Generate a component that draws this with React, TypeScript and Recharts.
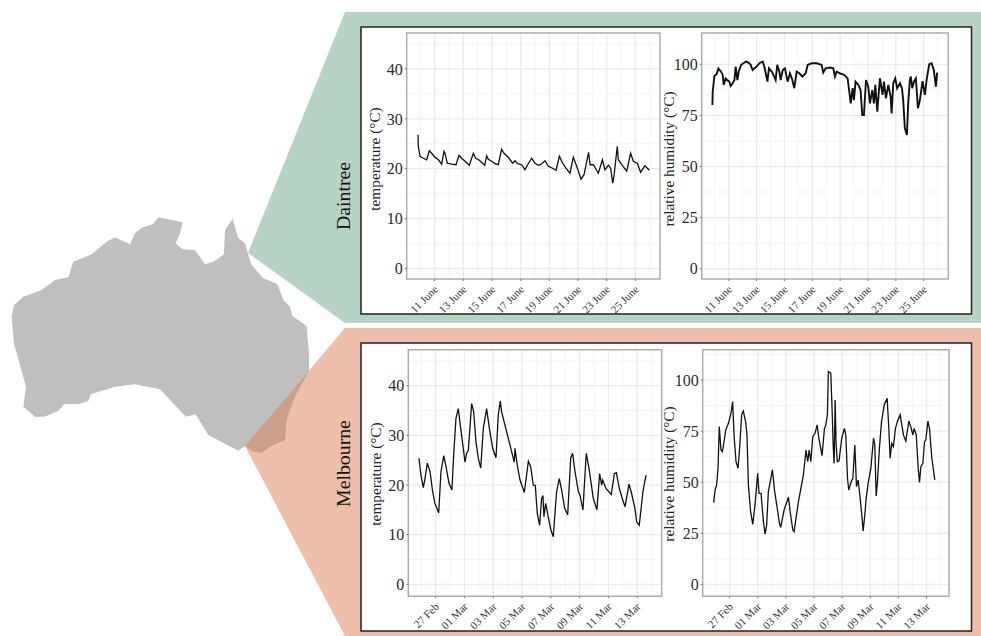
import React from 'react';
import { LineChart, Line, XAxis, YAxis, CartesianGrid, ReferenceArea, Label } from 'recharts';

const FONT = '"Liberation Serif", serif';

const juneTicks = [11, 13, 15, 17, 19, 21, 23, 25];
const juneLabels = ['11 June', '13 June', '15 June', '17 June', '19 June', '21 June', '23 June', '25 June'];
const juneMinor = [10, 12, 14, 16, 18, 20, 22, 24, 26];

// days counted from 27 Feb
const marchTicks = [0, 2, 4, 6, 8, 10, 12, 14];
const marchLabels = ['27 Feb', '01 Mar', '03 Mar', '05 Mar', '07 Mar', '09 Mar', '11 Mar', '13 Mar'];
const marchMinor = [-1, 1, 3, 5, 7, 9, 11, 13, 15];

const tempTicks = [0, 10, 20, 30, 40];
const tempMinor = [5, 15, 25, 35, 45];
const humidTicks = [0, 25, 50, 75, 100];
const humidMinor = [12.5, 37.5, 62.5, 87.5, 112.5];

const daintreeTempDays = [9.84, 9.86, 9.98, 10.21, 10.44, 10.63, 10.79, 11.02, 11.26, 11.49, 11.65, 11.72, 11.88, 12.19, 12.49, 12.7, 12.88, 13.12, 13.42, 13.7, 13.86, 14.12, 14.49, 14.63, 14.74, 14.98, 15.21, 15.44, 15.67, 15.84, 16.14, 16.44, 16.6, 16.79, 17.07, 17.3, 17.49, 17.77, 18.0, 18.23, 18.47, 18.7, 18.93, 19.23, 19.47, 19.7, 19.93, 20.16, 20.44, 20.67, 20.91, 21.21, 21.42, 21.74, 21.84, 22.07, 22.42, 22.7, 22.88, 23.12, 23.28, 23.42, 23.51, 23.74, 23.81, 24.05, 24.4, 24.67, 24.86, 25.14, 25.37, 25.67, 25.98];
const daintreeTemp = [26.8, 24.5, 22.5, 22.1, 21.8, 23.6, 23.1, 22.3, 21.8, 20.9, 23.5, 23.1, 21.1, 20.9, 20.8, 22.7, 22.1, 21.5, 20.7, 23.1, 22.1, 21.7, 20.7, 22.6, 21.9, 21.5, 21.0, 20.8, 23.9, 23.1, 22.3, 21.1, 21.6, 21.0, 20.8, 19.8, 20.8, 22.1, 21.1, 20.7, 21.0, 21.6, 20.5, 20.1, 19.7, 22.5, 21.1, 20.1, 19.1, 22.3, 20.5, 17.9, 18.8, 23.3, 20.8, 20.8, 19.1, 21.8, 19.8, 20.7, 20.1, 17.1, 18.5, 24.5, 21.8, 20.8, 19.5, 23.1, 21.5, 21.1, 19.3, 20.6, 19.7];

const daintreeHumidDays = [9.83, 9.85, 9.97, 10.14, 10.26, 10.45, 10.57, 10.64, 10.78, 10.93, 11.05, 11.14, 11.29, 11.41, 11.5, 11.62, 11.72, 11.89, 12.05, 12.24, 12.41, 12.58, 12.72, 12.84, 13.01, 13.2, 13.44, 13.56, 13.78, 13.89, 14.09, 14.21, 14.37, 14.49, 14.64, 14.73, 14.88, 15.04, 15.23, 15.4, 15.57, 15.71, 15.88, 16.07, 16.29, 16.53, 16.67, 16.96, 17.32, 17.67, 17.79, 17.96, 18.27, 18.51, 18.63, 18.75, 18.99, 19.28, 19.54, 19.66, 19.76, 19.9, 19.99, 20.11, 20.31, 20.47, 20.59, 20.71, 20.86, 21.02, 21.14, 21.31, 21.43, 21.53, 21.67, 21.86, 22.05, 22.15, 22.29, 22.46, 22.63, 22.7, 22.82, 22.96, 23.1, 23.3, 23.44, 23.53, 23.65, 23.8, 23.89, 24.01, 24.08, 24.18, 24.3, 24.44, 24.59, 24.73, 24.92, 25.09, 25.21, 25.4, 25.57, 25.73, 25.88, 25.97];
const daintreeHumid = [80.1, 86.6, 94.3, 95.3, 98.0, 96.4, 94.8, 89.9, 93.1, 92.0, 91.5, 89.4, 90.7, 92.3, 98.9, 92.3, 96.4, 99.7, 100.5, 101.3, 100.8, 99.7, 97.2, 98.0, 98.9, 100.5, 101.3, 98.9, 91.5, 98.0, 96.4, 94.8, 92.3, 99.7, 96.4, 92.3, 97.2, 98.0, 91.5, 95.6, 92.3, 88.3, 96.4, 95.6, 94.0, 95.6, 99.7, 100.5, 100.5, 99.7, 95.9, 98.0, 98.4, 98.0, 94.0, 96.4, 95.6, 94.8, 93.1, 86.6, 80.9, 88.3, 82.5, 91.5, 89.9, 87.4, 75.2, 75.2, 92.3, 89.1, 80.9, 87.4, 80.9, 89.9, 76.8, 93.1, 85.0, 91.5, 83.4, 89.9, 84.2, 76.0, 90.7, 93.1, 88.3, 90.7, 88.3, 82.5, 68.7, 65.4, 80.9, 92.3, 94.0, 88.3, 91.5, 93.1, 78.5, 82.5, 91.8, 85.0, 92.3, 100.0, 100.5, 97.2, 89.1, 95.9];

const melbTempDays = [-1.16, -1.02, -0.86, -0.74, -0.58, -0.39, -0.21, -0.05, 0.21, 0.37, 0.56, 0.72, 0.93, 1.13, 1.25, 1.41, 1.57, 1.74, 1.92, 2.04, 2.15, 2.27, 2.5, 2.64, 2.8, 2.96, 3.13, 3.31, 3.54, 3.73, 3.96, 4.19, 4.35, 4.49, 4.58, 4.81, 5.16, 5.46, 5.51, 5.67, 5.86, 6.16, 6.44, 6.6, 6.78, 6.92, 7.06, 7.22, 7.36, 7.45, 7.52, 7.64, 7.82, 8.01, 8.17, 8.4, 8.59, 8.77, 8.96, 9.17, 9.38, 9.51, 9.68, 9.91, 10.02, 10.23, 10.46, 10.67, 10.95, 11.2, 11.39, 11.53, 11.6, 11.83, 12.2, 12.41, 12.55, 12.76, 12.92, 13.15, 13.43, 13.61, 13.84, 13.96, 14.14, 14.4, 14.61];
const melbTemp = [25.4, 22.0, 19.5, 21.3, 24.4, 22.7, 18.7, 16.3, 14.4, 22.7, 25.9, 23.7, 20.3, 19.0, 26.0, 33.4, 35.4, 31.4, 27.4, 24.6, 26.4, 27.0, 36.4, 34.8, 28.7, 25.4, 23.4, 31.4, 35.4, 31.4, 27.4, 25.5, 34.1, 36.9, 34.8, 32.1, 28.1, 24.6, 27.4, 24.0, 21.0, 18.5, 24.8, 23.7, 20.0, 19.9, 14.3, 11.9, 17.3, 17.9, 13.6, 16.3, 13.6, 10.9, 9.6, 18.7, 21.3, 18.7, 15.3, 14.0, 25.4, 26.4, 22.7, 18.7, 18.0, 15.0, 26.4, 23.0, 17.3, 15.0, 22.3, 20.0, 21.0, 19.3, 18.1, 22.3, 22.5, 19.3, 17.7, 15.6, 20.2, 18.3, 15.3, 12.6, 11.9, 18.7, 22.0];

const melbHumidDays = [-1.14, -1.04, -0.93, -0.83, -0.74, -0.62, -0.52, -0.4, -0.28, -0.09, 0.09, 0.21, 0.31, 0.45, 0.59, 0.69, 0.85, 0.97, 1.14, 1.23, 1.33, 1.49, 1.64, 1.8, 1.99, 2.09, 2.23, 2.4, 2.52, 2.63, 2.75, 3.04, 3.2, 3.35, 3.54, 3.63, 3.87, 4.18, 4.3, 4.49, 4.58, 4.89, 5.24, 5.43, 5.55, 5.65, 5.77, 5.91, 6.07, 6.22, 6.34, 6.57, 6.74, 6.83, 6.95, 7.02, 7.19, 7.29, 7.36, 7.43, 7.5, 7.57, 7.66, 7.78, 7.97, 8.16, 8.26, 8.38, 8.47, 8.64, 8.76, 8.9, 9.02, 9.14, 9.28, 9.4, 9.49, 9.61, 9.71, 9.85, 10.04, 10.23, 10.32, 10.42, 10.51, 10.65, 10.8, 10.99, 11.2, 11.32, 11.41, 11.53, 11.65, 11.79, 11.94, 12.13, 12.24, 12.36, 12.53, 12.74, 12.88, 13.03, 13.12, 13.27, 13.41, 13.5, 13.6, 13.74, 13.86, 13.95, 14.1, 14.21, 14.38, 14.59];
const melbHumid = [40.0, 46.2, 48.6, 56.8, 77.2, 65.7, 64.9, 69.8, 75.5, 78.8, 83.7, 89.4, 73.1, 60.0, 56.8, 64.9, 82.9, 84.8, 79.3, 73.1, 48.6, 35.6, 29.4, 38.8, 54.3, 44.5, 44.5, 30.7, 24.6, 29.0, 45.4, 56.0, 45.4, 38.8, 29.9, 27.9, 36.4, 42.6, 35.6, 26.6, 25.8, 40.5, 53.5, 65.7, 60.0, 65.7, 60.0, 72.3, 73.9, 78.0, 71.5, 63.0, 76.3, 77.7, 82.9, 104.1, 103.3, 84.5, 68.2, 59.2, 90.2, 68.2, 60.0, 60.4, 71.5, 76.3, 73.1, 51.9, 46.2, 50.2, 51.9, 68.2, 47.8, 51.1, 42.1, 33.9, 26.1, 33.9, 42.1, 49.4, 56.8, 71.5, 68.2, 43.2, 50.2, 66.6, 79.6, 87.8, 91.0, 76.3, 61.7, 69.0, 67.4, 76.3, 79.9, 82.9, 78.0, 73.1, 70.1, 79.9, 77.2, 73.1, 76.3, 73.1, 56.8, 49.9, 57.6, 59.2, 69.8, 70.6, 79.9, 76.3, 61.7, 51.1];

// map outline, traced on a 3x crop of the picture
const australia = '475,52 548,67 540,100 527,130 548,148 585,150 615,193 640,185 672,163 675,90 698,57 715,115 735,130 745,165 755,195 790,235 832,252 850,300 870,320 877,348 920,378 927,460 927,515 880,580 735,738 715,752 625,705 587,643 558,650 480,568 405,553 345,560 272,583 265,603 235,612 192,613 175,633 133,650 105,650 70,620 78,560 42,430 35,350 42,315 70,290 125,270 165,240 205,232 220,185 275,163 320,125 345,112 390,133 405,100 425,83 460,72';
const victoria = '925,515 885,590 860,660 855,720 810,740 785,758 760,755 735,738';

type PanelProps = {
  left: number;
  top: number;
  width: number;
  height: number;
  axisWidth: number;
  plotTop: number;
  plotHeight: number;
  days: number[];
  values: number[];
  xDomain: [number, number];
  xTicks: number[];
  xLabels: string[];
  xMinor: number[];
  yDomain: [number, number];
  yTicks: number[];
  yMinor: number[];
  yTitle: string;
  titleX: number;
  titleShift: number;
  strokeWidth?: number;
};

const Panel: React.FC<PanelProps> = ({
  left, top, width, height, axisWidth, plotTop, plotHeight, days, values,
  xDomain, xTicks, xLabels, xMinor, yDomain, yTicks, yMinor, yTitle, titleX, titleShift, strokeWidth = 1.3,
}) => {
  const data = days.map((day, i) => ({ day, value: values[i] }));

  const renderDateTick = ({ x, y, payload }: any) => (
    <text
      x={x + 4}
      y={y + 7}
      transform={`rotate(-45 ${x + 4} ${y + 7})`}
      textAnchor="end"
      fontFamily={FONT}
      fontSize={11}
      fill="#333"
    >
      {xLabels[xTicks.indexOf(payload.value)]}
    </text>
  );

  return (
    <div style={{ position: 'absolute', left, top }}>
      <LineChart
        width={width + 4}
        height={height + 4}
        data={data}
        margin={{ top: plotTop, right: 4, bottom: 4, left: 0 }}
      >
        <CartesianGrid stroke="#f5f5f5" strokeWidth={1} horizontalValues={yMinor} verticalValues={xMinor} />
        <CartesianGrid stroke="#ebebeb" strokeWidth={1.3} horizontalValues={yTicks} verticalValues={xTicks} />
        <XAxis
          dataKey="day"
          type="number"
          domain={xDomain}
          ticks={xTicks}
          interval={0}
          allowDataOverflow
          height={height - plotTop - plotHeight}
          tick={renderDateTick}
          tickLine={{ stroke: '#777' }}
          tickSize={2}
          axisLine={false}
        />
        <YAxis
          type="number"
          domain={yDomain}
          ticks={yTicks}
          interval={0}
          allowDataOverflow
          width={axisWidth}
          tick={{ fontFamily: FONT, fontSize: 16, fill: '#2b2b2b' }}
          tickLine={{ stroke: '#777' }}
          tickSize={2}
          tickMargin={2}
          axisLine={false}
        >
          <Label
            content={() => {
              const cy = plotTop + plotHeight / 2 + titleShift;
              return (
                <text
                  x={titleX}
                  y={cy}
                  transform={`rotate(-90 ${titleX} ${cy})`}
                  textAnchor="middle"
                  fontFamily={FONT}
                  fontSize={15.3}
                  fill="#222"
                >
                  {yTitle}
                </text>
              );
            }}
          />
        </YAxis>
        <ReferenceArea
          x1={xDomain[0]}
          x2={xDomain[1]}
          y1={yDomain[0]}
          y2={yDomain[1]}
          fill="none"
          stroke="#adadad"
          strokeWidth={1.5}
          ifOverflow="visible"
        />
        <Line
          dataKey="value"
          type="linear"
          stroke="#111"
          strokeWidth={strokeWidth}
          dot={false}
          isAnimationActive={false}
        />
      </LineChart>
    </div>
  );
};

const Backdrop = () => (
  <svg width={981} height={636} style={{ position: 'absolute', left: 0, top: 0 }}>
    <polygon points="248,253 345,12 981,12 981,323 345,323" fill="#b7d3c3" />
    <polygon points="245,446 345,328 981,328 981,636 345,636" fill="#eebfaa" />
    <g transform="translate(0,200) scale(0.3333)">
      <polygon points={australia} fill="#bfbfbf" />
      <polygon points={victoria} fill="#cc9f8b" />
    </g>
    <rect x={361} y={27} width={610.5} height={287} fill="#fff" stroke="#222" strokeWidth={1.5} />
    <rect x={361} y={343} width={610.5} height={288} fill="#fff" stroke="#222" strokeWidth={1.5} />
    <text x={350} y={196} transform="rotate(-90 350 196)" textAnchor="middle" fontFamily={FONT} fontSize={19.8} fill="#111">Daintree</text>
    <text x={350} y={463.5} transform="rotate(-90 350 463.5)" textAnchor="middle" fontFamily={FONT} fontSize={19.8} fill="#111">Melbourne</text>
  </svg>
);

export default function App() {
  return (
    <div style={{ position: 'absolute', left: 0, top: 0, width: 981, height: 636, overflow: 'hidden', background: '#fff' }}>
      <Backdrop />
      <Panel left={362} top={28} width={298} height={285} axisWidth={44.7} plotTop={5} plotHeight={246}
        days={daintreeTempDays} values={daintreeTemp} titleX={18} titleShift={3}
        xDomain={[9.05, 26.72]} xTicks={juneTicks} xLabels={juneLabels} xMinor={juneMinor}
        yDomain={[-2.1, 47.2]} yTicks={tempTicks} yMinor={tempMinor} yTitle="temperature (°C)" />
      <Panel left={656} top={28} width={292.3} height={285} axisWidth={45.7} plotTop={5} plotHeight={246}
        days={daintreeHumidDays} values={daintreeHumid} strokeWidth={1.9} titleX={18} titleShift={3}
        xDomain={[9.06, 26.77]} xTicks={juneTicks} xLabels={juneLabels} xMinor={juneMinor}
        yDomain={[-5, 115.3]} yTicks={humidTicks} yMinor={humidMinor} yTitle="relative humidity (°C)" />
      <Panel left={362} top={344} width={299.7} height={286} axisWidth={46.3} plotTop={5.7} plotHeight={246.6}
        days={melbTempDays} values={melbTemp} titleX={18.7} titleShift={1}
        xDomain={[-1.9, 15.7]} xTicks={marchTicks} xLabels={marchLabels} xMinor={marchMinor}
        yDomain={[-2.4, 47.25]} yTicks={tempTicks} yMinor={tempMinor} yTitle="temperature (°C)" />
      <Panel left={656} top={344} width={293} height={286} axisWidth={46.7} plotTop={5.7} plotHeight={246.6}
        days={melbHumidDays} values={melbHumid} titleX={18} titleShift={1}
        xDomain={[-1.92, 15.6]} xTicks={marchTicks} xLabels={marchLabels} xMinor={marchMinor}
        yDomain={[-5.8, 114.8]} yTicks={humidTicks} yMinor={humidMinor} yTitle="relative humidity (°C)" />
    </div>
  );
}
